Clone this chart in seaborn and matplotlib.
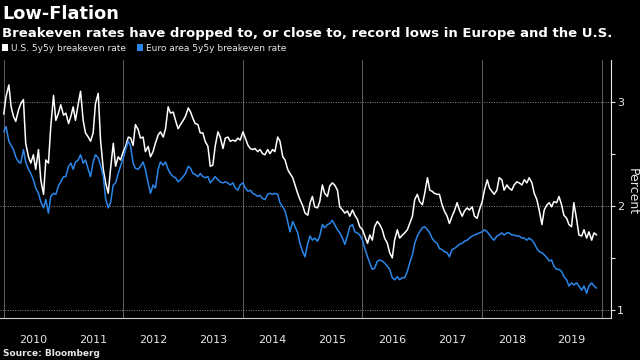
import pandas as pd
import matplotlib
matplotlib.use("Agg")
import matplotlib.pyplot as plt
import matplotlib.dates as mdates
from matplotlib.patches import Patch
import seaborn as sns

# semi-monthly readings (1st and 15th of each month), Jan 2010 - Nov 2019
us_5y5y = [
    2.88, 3.05, 3.16, 2.95, 2.86, 2.81, 2.92, 2.98, 3.02, 2.60, 2.47, 2.41, 2.49, 2.35, 2.54, 2.25, 2.11, 2.44, 2.41, 2.76, 3.06, 2.82, 2.89, 2.97,
    2.87, 2.89, 2.79, 2.86, 2.95, 2.82, 2.98, 3.10, 2.82, 2.70, 2.66, 2.62, 2.70, 2.98, 3.08, 2.63, 2.35, 2.22, 2.12, 2.35, 2.60, 2.38, 2.47, 2.44,
    2.52, 2.57, 2.66, 2.65, 2.58, 2.78, 2.73, 2.65, 2.66, 2.52, 2.57, 2.47, 2.52, 2.60, 2.68, 2.71, 2.66, 2.74, 2.95, 2.89, 2.90, 2.82, 2.74, 2.78,
    2.82, 2.86, 2.94, 2.90, 2.84, 2.79, 2.78, 2.70, 2.70, 2.62, 2.57, 2.38, 2.39, 2.57, 2.71, 2.66, 2.55, 2.65, 2.66, 2.62, 2.63, 2.62, 2.65, 2.63,
    2.71, 2.65, 2.58, 2.55, 2.54, 2.55, 2.52, 2.54, 2.50, 2.49, 2.54, 2.50, 2.54, 2.52, 2.66, 2.62, 2.47, 2.44, 2.35, 2.31, 2.27, 2.20, 2.12, 2.06,
    2.00, 1.93, 1.91, 2.03, 2.09, 1.99, 1.98, 2.04, 2.20, 2.12, 2.09, 2.19, 2.22, 2.20, 2.15, 1.99, 1.96, 1.93, 1.95, 1.90, 1.96, 1.91, 1.87, 1.80,
    1.77, 1.71, 1.64, 1.72, 1.67, 1.80, 1.85, 1.82, 1.77, 1.69, 1.64, 1.55, 1.50, 1.67, 1.77, 1.69, 1.72, 1.74, 1.77, 1.83, 1.90, 2.06, 2.11, 2.04,
    2.01, 2.12, 2.27, 2.15, 2.14, 2.12, 2.11, 2.11, 2.01, 1.95, 1.90, 1.83, 1.90, 1.95, 2.03, 1.96, 1.90, 1.95, 1.98, 1.96, 1.99, 1.90, 1.88, 1.96,
    2.04, 2.15, 2.25, 2.17, 2.14, 2.11, 2.15, 2.27, 2.25, 2.15, 2.20, 2.17, 2.15, 2.20, 2.23, 2.22, 2.20, 2.25, 2.22, 2.27, 2.22, 2.12, 2.06, 1.96,
    1.82, 1.96, 2.01, 2.03, 1.99, 2.04, 2.03, 2.09, 2.01, 1.91, 1.88, 1.82, 1.80, 2.03, 1.87, 1.72, 1.71, 1.77, 1.69, 1.75, 1.67, 1.74, 1.72,
]
euro_5y5y = [
    2.71, 2.76, 2.62, 2.58, 2.54, 2.47, 2.42, 2.41, 2.54, 2.42, 2.35, 2.31, 2.25, 2.17, 2.12, 2.04, 1.98, 2.06, 1.93, 2.09, 2.12, 2.11, 2.19, 2.23,
    2.28, 2.28, 2.38, 2.41, 2.35, 2.42, 2.44, 2.49, 2.41, 2.44, 2.35, 2.28, 2.42, 2.49, 2.46, 2.39, 2.28, 2.07, 1.98, 2.03, 2.20, 2.22, 2.31, 2.38,
    2.46, 2.54, 2.62, 2.57, 2.41, 2.36, 2.35, 2.38, 2.42, 2.35, 2.22, 2.12, 2.20, 2.17, 2.35, 2.42, 2.39, 2.42, 2.35, 2.31, 2.28, 2.27, 2.23, 2.25,
    2.28, 2.31, 2.38, 2.36, 2.31, 2.30, 2.28, 2.31, 2.28, 2.27, 2.28, 2.22, 2.25, 2.28, 2.25, 2.23, 2.22, 2.23, 2.22, 2.20, 2.22, 2.17, 2.15, 2.20,
    2.22, 2.17, 2.14, 2.15, 2.12, 2.11, 2.09, 2.10, 2.07, 2.06, 2.11, 2.12, 2.11, 2.12, 2.11, 2.03, 1.99, 1.95, 1.85, 1.75, 1.85, 1.80, 1.74, 1.64,
    1.56, 1.51, 1.64, 1.71, 1.67, 1.69, 1.66, 1.71, 1.82, 1.79, 1.82, 1.83, 1.86, 1.82, 1.77, 1.74, 1.69, 1.63, 1.71, 1.80, 1.82, 1.75, 1.74, 1.72,
    1.67, 1.59, 1.51, 1.45, 1.39, 1.40, 1.47, 1.48, 1.47, 1.45, 1.42, 1.39, 1.31, 1.29, 1.32, 1.29, 1.31, 1.31, 1.37, 1.45, 1.53, 1.64, 1.71, 1.75,
    1.79, 1.80, 1.77, 1.74, 1.69, 1.66, 1.64, 1.59, 1.58, 1.56, 1.55, 1.51, 1.58, 1.59, 1.61, 1.63, 1.64, 1.66, 1.67, 1.69, 1.71, 1.72, 1.73, 1.74,
    1.75, 1.77, 1.75, 1.72, 1.69, 1.67, 1.71, 1.72, 1.74, 1.72, 1.74, 1.74, 1.72, 1.72, 1.71, 1.71, 1.69, 1.69, 1.67, 1.69, 1.67, 1.64, 1.59, 1.56,
    1.55, 1.53, 1.50, 1.47, 1.48, 1.42, 1.39, 1.39, 1.37, 1.32, 1.29, 1.23, 1.26, 1.24, 1.26, 1.23, 1.19, 1.23, 1.16, 1.23, 1.26, 1.23, 1.21,
]
dates = pd.date_range("2010-01-01", periods=len(us_5y5y), freq="SMS")

series_names = ["U.S. 5y5y breakeven rate", "Euro area 5y5y breakeven rate"]
colors = {"U.S. 5y5y breakeven rate": "#ffffff", "Euro area 5y5y breakeven rate": "#2b86ea"}

df = pd.concat([
    pd.DataFrame({"date": dates, "value": us_5y5y, "series": series_names[0]}),
    pd.DataFrame({"date": dates, "value": euro_5y5y, "series": series_names[1]}),
])

sns.set_theme(style="dark")
plt.rcParams["font.family"] = ["DejaVu Sans"]

fig = plt.figure(figsize=(6.4, 3.6), dpi=100, facecolor="black")
ax = fig.add_axes([0.0, 0.1167, 0.9542, 0.7167])
ax.set_facecolor("black")

sns.lineplot(data=df, x="date", y="value", hue="series", hue_order=series_names,
             palette=colors, linewidth=1.1, legend=False, ax=ax)

ax.set_xlim(pd.Timestamp("2009-12-09"), pd.Timestamp("2020-02-25"))
ax.set_ylim(0.923, 3.40)

# grid
for y in [1, 2, 3]:
    ax.axhline(y, color="#8a8a8a", lw=0.7, ls=(0, (1, 1.5)), zorder=0)
for yr in range(2010, 2021, 2):
    ax.axvline(pd.Timestamp(f"{yr}-01-01"), color="#5e5e5e", lw=0.7, zorder=0)

# x axis: year separators + centered labels
ax.xaxis.set_major_locator(mdates.YearLocator())
ax.xaxis.set_major_formatter(plt.NullFormatter())
ax.xaxis.set_minor_locator(mdates.MonthLocator(bymonth=7, bymonthday=1))
ax.xaxis.set_minor_formatter(mdates.DateFormatter("%Y"))
ax.tick_params(axis="x", which="major", length=19, width=0.8, color="#9a9a9a", direction="out")
ax.tick_params(axis="x", which="minor", length=0, pad=12, labelsize=8, labelcolor="#e6e6e6")

# y axis on the right
ax.yaxis.tick_right()
ax.set_yticks([1, 2, 3])
ax.set_yticklabels(["1", "2", "3"])
ax.set_yticks([1.5, 2.5], minor=True)
ax.tick_params(axis="y", which="both", length=3, width=0.8, color="#e6e6e6", direction="out",
               labelsize=8, labelcolor="#e6e6e6", pad=1.5)
ax.set_xlabel("")
ax.set_ylabel("")

for side in ["top", "left"]:
    ax.spines[side].set_visible(False)
ax.spines["right"].set_color("#e6e6e6")
ax.spines["bottom"].set_color("#cfcfcf")
ax.spines["right"].set_linewidth(0.8)
ax.spines["bottom"].set_linewidth(0.8)

fig.text(0.9875, 0.467, "Percent", rotation=270, ha="center", va="center",
         color="#e6e6e6", fontsize=9)

fig.text(0.003, 0.962, "Low-Flation", ha="left", va="center", color="white",
         fontsize=12.8, fontweight="bold")
fig.text(0.003, 0.906, "Breakeven rates have dropped to, or close to, record lows in Europe and the U.S.",
         ha="left", va="center", color="white", fontsize=9.5, fontweight="bold")
fig.text(0.004, 0.017, "Source: Bloomberg", ha="left", va="center", color="#e6e6e6",
         fontsize=6.5, fontweight="bold")

handles = [Patch(facecolor=colors[s], edgecolor="none", label=s) for s in series_names]
leg = fig.legend(handles=handles, loc="center left", bbox_to_anchor=(0.0, 0.866), ncol=2,
                 frameon=False, fontsize=6.5, handlelength=0.7, handleheight=0.7,
                 handletextpad=0.3, columnspacing=1.2, borderaxespad=0, borderpad=0.2)
for t in leg.get_texts():
    t.set_color("#e6e6e6")

fig.savefig("out.png", dpi=100, facecolor="black")
